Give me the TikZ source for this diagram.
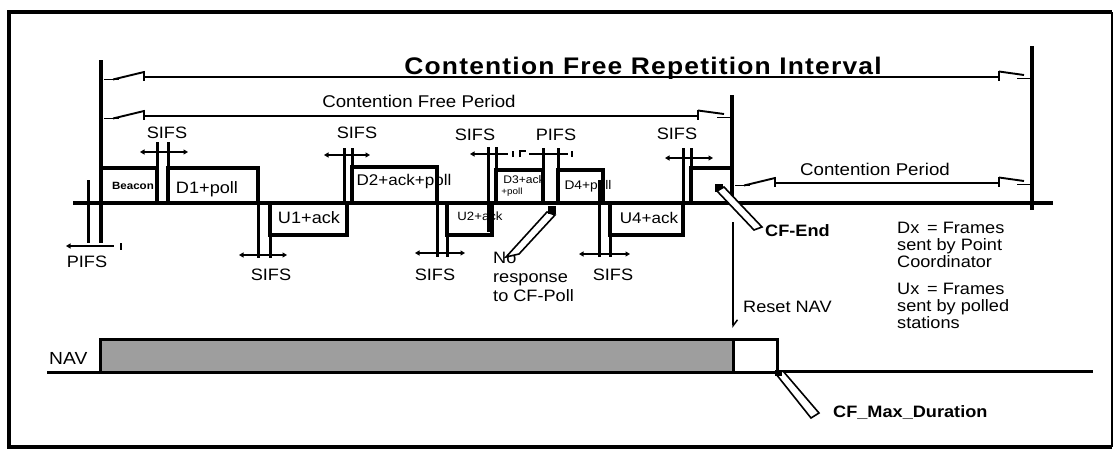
\documentclass[tikz,border=0pt]{standalone}
\usepackage{fontspec}
\setmainfont{Liberation Sans}[FakeStretch=1.1]
\usetikzlibrary{arrows.meta}
\newcommand\fs[1]{\fontsize{#1}{#1}\selectfont}
\definecolor{navgray}{rgb}{0.62,0.62,0.62}
\newcommand\lbrk[3]{%
 \draw[brk] (#1+3,#3+2.5) -- (#1+18,#3+2.5);
 \draw[brk] (#1+12,#3+2.5) -- (#2,#3-5);
 \draw[brk] (#2,#3-6.5) -- (#2,#3+3.5);}
\newcommand\rbrk[3]{%
 \draw[brk] (#1,#3-6.5) -- (#1,#3+3.5);
 \draw[brk] (#1,#3-5.5) -- (#2-8,#3-2);
 \draw[brk] (#2-15,#3+1.5) -- (#2-2,#3+1.5);}
\begin{document}
\begin{tikzpicture}[x=1pt,y=-1pt,
  bar/.style={line width=4.5pt},
  gapline/.style={line width=3pt},
  tip/.tip={Triangle[length=4.5pt,width=5pt]},
  dim/.style={line width=1.5pt,tip-tip},
  diml/.style={line width=1.5pt,tip-},
  brk/.style={line width=1.9pt},
  fbox/.style={draw,line width=4.3pt,inner sep=0pt},
  lbl/.style={inner sep=0pt,anchor=base},
  lblw/.style={inner sep=0pt,anchor=base west},
  wedge/.style={line width=1.6pt,fill=white}]
\useasboundingbox (0,0) rectangle (1114,448);
% frame
\draw[line width=2pt] (1112,12) -- (1112,447);
\draw[line width=4.5pt] (1112,447) -- (9,447) -- (9,12) -- (1112,12);
% timeline and bars
\draw[bar] (73,203) -- (1053,203);
\draw[bar] (101,60) -- (101,243);
\draw[gapline] (88,180) -- (88,243);
\draw[bar] (1032,46) -- (1032,210);
\draw[line width=3.2pt] (732,95) -- (732,205);
% interval lines
\node[lbl] (title) at (643,74) {\fs{24}\bfseries\addfontfeature{LetterSpace=5}Contention Free Repetition Interval};
\lbrk{101}{144}{77}
\draw[brk] (144,77) -- (999,77);
\rbrk{999}{1032}{77}
\node[lbl] (cfp) at (419,107) {\fs{17}Contention Free Period};
\lbrk{101}{144}{116}
\draw[brk] (144,116) -- (698,116);
\rbrk{698}{732}{116}
\node[lbl] (cp) at (875,175) {\fs{17}Contention Period};
\lbrk{732}{775}{183}
\draw[brk] (775,183) -- (999,183);
\rbrk{999}{1032}{183}
% frame labels
\node[lbl] (lbeacon) at (133,189) {\fs{10.5}\bfseries Beacon};
\node[lbl] (ld1) at (207,193) {\fs{16.5}D1+poll};
\node[lbl] (lu1) at (309,223) {\fs{16.5}U1+ack};
\node[lbl] (ld2) at (404,185) {\fs{15.5}D2+ack+poll};
\node[lbl] (lu2) at (480,220) {\fs{12}U2+ack};
\node[lbl] (ld3a) at (524,183) {\fs{11}D3+ack};
\node[lbl] (ld3b) at (512,194) {\fs{9}+poll};
\node[lbl] (ld4) at (588,189) {\fs{12.5}D4+poll};
\node[lbl] (lu4) at (649,223) {\fs{15.5}U4+ack};
% frames
\node[fbox,minimum width=56,minimum height=35] (beacon) at (129,185.5) {};
\node[fbox,minimum width=90,minimum height=35] (d1) at (213,185.5) {};
\node[fbox,minimum width=77,minimum height=32] (u1) at (308.5,219) {};
\node[fbox,minimum width=85,minimum height=36] (d2) at (394.5,185) {};
\node[fbox,minimum width=45,minimum height=32] (u2) at (469.5,219) {};
\node[fbox,minimum width=47,minimum height=33] (d3) at (519.5,186.5) {};
\node[fbox,minimum width=45,minimum height=33] (d4) at (580.5,186.5) {};
\node[fbox,minimum width=73,minimum height=32] (u4) at (646.5,219) {};
\node[fbox,minimum width=41,minimum height=35] (cfend) at (711.5,185.5) {};
% PIFS left
\draw[diml] (66,246) -- (114,246);
\draw[brk] (121,243) -- (121,250);
\node[lbl] (pifs0) at (87,267) {\fs{16.5}PIFS};
% SIFS 1
\draw[gapline] (157,142) -- (157,203);
\draw[gapline] (168,142) -- (168,203);
\draw[dim] (140,152) -- (188,152);
\node[lbl] (sifs1) at (167,138) {\fs{16.5}SIFS};
% SIFS 2
\draw[gapline] (258,203) -- (258,258);
\draw[gapline] (270,203) -- (270,258);
\draw[dim] (239,255) -- (287,255);
\node[lbl] (sifs2) at (271,280) {\fs{16.5}SIFS};
% SIFS 3
\draw[gapline] (344,148) -- (344,203);
\draw[gapline] (352,148) -- (352,203);
\draw[dim] (324,155) -- (370,155);
\node[lbl] (sifs3) at (357,138) {\fs{16.5}SIFS};
% SIFS 4
\draw[gapline] (437,203) -- (437,257);
\draw[gapline] (447,203) -- (447,257);
\draw[dim] (415,253) -- (465,253);
\node[lbl] (sifs4) at (435,280) {\fs{16.5}SIFS};
% SIFS 5
\draw[gapline] (488,147) -- (488,232);
\draw[gapline] (496,147) -- (496,203);
\draw[diml] (470,154) -- (508,154);
\draw[brk] (513,151) -- (513,157);
\node[lbl] (sifs5) at (475,140) {\fs{16.5}SIFS};
% PIFS 2
\draw[gapline] (543,148) -- (543,203);
\draw[gapline] (558,148) -- (558,203);
\draw[brk] (520,157) -- (520,151) -- (526,151);
\draw[line width=1.5pt] (529,154) -- (568,154);
\draw[brk] (572,151) -- (572,157);
\node[lbl] (pifs2) at (556,140) {\fs{16.5}PIFS};
% SIFS 6
\draw[gapline] (599,180) -- (599,257);
\draw[gapline] (610,203) -- (610,257);
\draw[dim] (579,254) -- (630,254);
\node[lbl] (sifs6) at (613,280) {\fs{16.5}SIFS};
% SIFS 7
\draw[gapline] (683,148) -- (683,203);
\draw[gapline] (691,148) -- (691,203);
\draw[dim] (665,158) -- (713,158);
\node[lbl] (sifs7) at (677,139) {\fs{16.5}SIFS};
% No response pointer
\node[lblw] (nr1) at (493,263) {\fs{16.5}No};
\node[lblw] (nr2) at (493,282) {\fs{16.5}response};
\node[lblw] (nr3) at (493,301) {\fs{16.5}to CF-Poll};
\draw[wedge] (506,257) -- (547,212) -- (555,215) -- (519,254) -- cycle;
\fill (548,206) rectangle (556,214);
% CF-End pointer
\fill (715,184) rectangle (723,192);
\draw[wedge] (717,191) -- (724,187) -- (762,227) -- (754,230) -- cycle;
\node[lblw] (cfendl) at (765,236) {\fs{16.5}\bfseries CF-End};
% Reset NAV
\coordinate (rs) at (733,222);
\coordinate (re) at (733,328);
\draw[line width=1.5pt,-{Straight Barb[left,length=6pt,width=9pt]}] (rs) -- (re);
\node[lblw] (reset) at (743,312) {\fs{16.5}Reset NAV};
% legend
\node[lblw] (lg1) at (897,233) {\fs{16.5}Dx\, = Frames};
\node[lblw] (lg2) at (897,250) {\fs{16.5}sent by Point};
\node[lblw] (lg3) at (897,267) {\fs{16.5}Coordinator};
\node[lblw] (lg4) at (897,294) {\fs{16.5}Ux\, = Frames};
\node[lblw] (lg5) at (897,311) {\fs{16.5}sent by polled};
\node[lblw] (lg6) at (897,328) {\fs{16.5}stations};
% NAV
\node[lblw] (navl) at (49,364) {\fs{17.5}NAV};
\draw[line width=3pt] (47,372) -- (100,372);
\draw[line width=3pt] (777,371) -- (1093,371);
\node[draw,line width=3pt,fill=navgray,minimum width=633,minimum height=33,inner sep=0pt] (navbar) at (416.5,355.5) {};
\node[draw,line width=3pt,fill=white,minimum width=44,minimum height=33,inner sep=0pt] (navend) at (755,355.5) {};
% CF_Max_Duration pointer
\draw[wedge] (776,374) -- (783,371) -- (819,413) -- (811,418) -- cycle;
\fill (775,370) rectangle (782,376);
\node[lblw] (cfmax) at (833,417) {\fs{16.5}\bfseries CF\_Max\_Duration};
\end{tikzpicture}
\end{document}
